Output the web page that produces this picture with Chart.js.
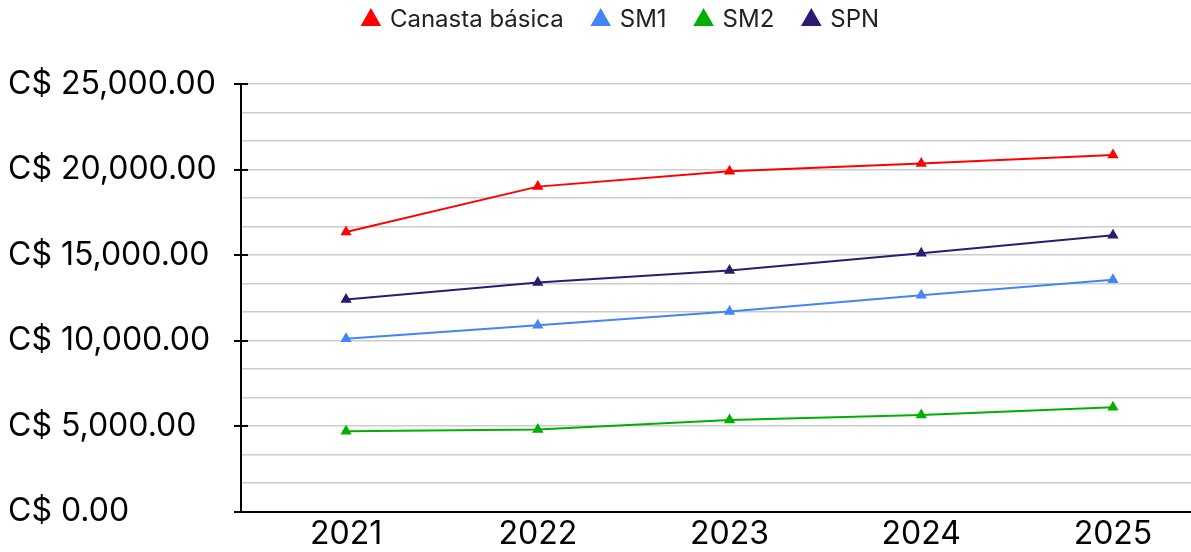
<!DOCTYPE html>
<html>
<head>
<meta charset="utf-8">
<script src="https://cdn.jsdelivr.net/npm/chart.js@4"></script>
<style>
  html, body { margin: 0; padding: 0; background: #ffffff; }
  #wrap { width: 1191px; height: 552px; }
</style>
</head>
<body>
<div id="wrap"><canvas id="c" width="1191" height="552"></canvas></div>
<script>
const categories = ["2021", "2022", "2023", "2024", "2025"];
const canastaBasica = [16350, 19000, 19900, 20350, 20850];
const sm1 = [10100, 10900, 11700, 12650, 13550];
const sm2 = [4700, 4800, 5350, 5650, 6100];
const spn = [12400, 13400, 14100, 15100, 16150];
const yTickLabels = [0, 5000, 10000, 15000, 20000, 25000];

const FONT = "Inter";
const years = categories.map(Number);
const toPoints = arr => arr.map((v, i) => ({ x: years[i], y: v }));
const fmt = v => "C$ " + v.toLocaleString("en-US", { minimumFractionDigits: 2, maximumFractionDigits: 2 });
const isMajor = v => yTickLabels.some(t => Math.abs(t - v) < 1);

function ds(label, data, color) {
  return {
    label, data: toPoints(data),
    borderColor: color, backgroundColor: color,
    borderWidth: 2, pointStyle: "triangle", pointRadius: 4.5,
    pointHoverRadius: 4.5, tension: 0
  };
}

const LEGEND_HEIGHT = 84;
const legendTweak = {
  id: "legendTweak",
  beforeInit(chart) {
    const lg = chart.legend;
    if (lg && !lg._tweaked) {
      const fit = lg.fit;
      lg.fit = function () { fit.call(this); this.height = LEGEND_HEIGHT; };
      lg._tweaked = true;
    }
  },
  afterLayout(chart) {
    const lg = chart.legend;
    lg.top -= 22; lg.bottom -= 22;
    lg.left += 22; lg.right += 22;
  }
};

const crossTicks = {
  id: "crossTicks",
  afterDatasetsDraw(chart) {
    const y = chart.scales.y, ctx = chart.ctx;
    ctx.save();
    ctx.strokeStyle = "#000"; ctx.lineWidth = 2;
    yTickLabels.forEach(v => {
      const py = Math.round(y.getPixelForValue(v));
      ctx.beginPath(); ctx.moveTo(y.right - 7, py); ctx.lineTo(y.right + 7, py); ctx.stroke();
    });
    ctx.restore();
  }
};

new Chart(document.getElementById("c"), {
  type: "line",
  data: {
    datasets: [
      ds("Canasta básica", canastaBasica, "#ff0000"),
      ds("SM1", sm1, "#4285f4"),
      ds("SM2", sm2, "#00b000"),
      ds("SPN", spn, "#2e1a72")
    ]
  },
  options: {
    responsive: false,
    animation: false,
    layout: { autoPadding: false, padding: { left: 8, right: 0, top: 0, bottom: 0 } },
    plugins: {
      legend: {
        position: "top",
        align: "center",
        labels: {
          usePointStyle: true, pointStyle: "triangle",
          boxWidth: 14, boxHeight: 14,
          font: { family: FONT, size: 24 }, color: "#222",
          padding: 30
        }
      },
      tooltip: { enabled: false }
    },
    scales: {
      x: {
        type: "linear",
        min: 2020.452, max: 2025.407,
        afterBuildTicks: s => { s.ticks = years.map(v => ({ value: v })); },
        afterFit: s => { s.height -= 6; },
        ticks: {
          callback: v => String(v),
          font: { family: FONT, size: 32 }, color: "#000",
          padding: 4, maxRotation: 0, autoSkip: false
        },
        grid: { display: false, drawTicks: false },
        border: { display: true, color: "#000", width: 2 }
      },
      y: {
        min: 0, max: 25000,
        ticks: {
          stepSize: 5000 / 3,
          callback: v => isMajor(v) ? fmt(Math.round(v)) : "",
          font: { family: FONT, size: 32 }, color: "#000",
          crossAlign: "far", padding: 8, autoSkip: false
        },
        afterFit: s => { s.width = 233; },
        grid: { color: "#cccccc", lineWidth: 1.5, drawTicks: false },
        border: { display: true, color: "#000", width: 2 }
      }
    }
  },
  plugins: [legendTweak, crossTicks]
});
</script>
</body>
</html>
